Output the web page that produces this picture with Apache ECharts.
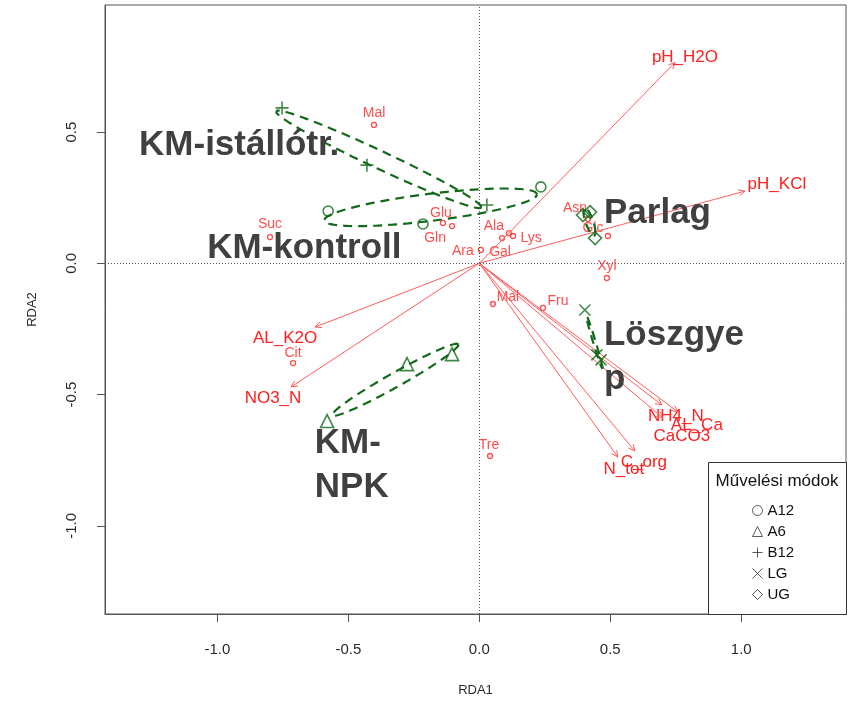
<!DOCTYPE html>
<html>
<head>
<meta charset="utf-8">
<script src="https://cdn.jsdelivr.net/npm/echarts@6/dist/echarts.min.js"></script>
<style>
  html, body { margin: 0; padding: 0; background: #fff; }
  #chart { width: 854px; height: 703px; }
</style>
</head>
<body>
<div id="chart"></div>
<script>
// ---- RDA scores -------------------------------------------------------
// species scores (sugars, amino acids, organic acids)
const speciesNames = ['Mal', 'Suc', 'Glu', 'Gln', 'Ala', 'Lys', 'Gal', 'Ara', 'Asn', 'Glc', 'Xyl', 'Mal', 'Fru', 'Tre', 'Cit'];
const speciesRDA1  = [-0.402, -0.799, -0.139, -0.104, 0.113, 0.129, 0.087, 0.006, 0.415, 0.491, 0.487, 0.052, 0.243, 0.041, -0.711];
const speciesRDA2  = [0.527, 0.100, 0.154, 0.142, 0.115, 0.104, 0.096, 0.051, 0.169, 0.104, -0.056, -0.155, -0.170, -0.734, -0.380];

// fitted soil variables (biplot arrows)
const envNames = ['pH_H2O', 'pH_KCl', 'AL_K2O', 'NO3_N', 'NH4_N', 'AL_Ca', 'CaCO3', 'C_org', 'N_tot'];
const envRDA1  = [0.747, 1.014, -0.627, -0.719, 0.697, 0.758, 0.701, 0.594, 0.529];
const envRDA2  = [0.765, 0.275, -0.243, -0.471, -0.540, -0.566, -0.589, -0.715, -0.738];

// site scores per cultivation mode
const siteGroups = ['A12', 'A6', 'B12', 'LG', 'UG'];
const sitesA12 = [[-0.577, 0.199], [-0.215, 0.150], [0.235, 0.291]];
const sitesA6  = [[-0.581, -0.601], [-0.276, -0.384], [-0.104, -0.346]];
const sitesB12 = [[-0.753, 0.592], [-0.429, 0.374], [0.029, 0.222]];
const sitesLG  = [[0.403, -0.178], [0.449, -0.349], [0.465, -0.368]];
const sitesUG  = [[0.396, 0.184], [0.423, 0.195], [0.442, 0.096]];

// treatment names written next to the groups
const noteTexts = ['KM-istállótr.', 'KM-kontroll', 'Parlag', 'Löszgye\np', 'KM-\nNPK'];
const noteRDA1  = [-1.299, -1.039, 0.476, 0.476, -0.628];
const noteRDA2  = [0.451, 0.058, 0.192, -0.357, -0.768];

const tickValues = [-1.0, -0.5, 0.0, 0.5, 1.0];

// ---- styling ----------------------------------------------------------
const FONT = '"Liberation Sans", Arial, Helvetica, sans-serif';
const RED = '#ff2020';
const ARROW = '#ff5e5e';
const GREEN = '#11691a';
const NOTE = '#404040';

// label placement around each species point, in pixels [dx, dy]
const speciesLabelShift = [[0, -12], [0, -13], [-2, -10], [-17, 12], [-15, -7], [18, 2], [-2, 14],
                           [-18, 1], [-13, -11], [-15, -8], [0, -12], [15, -7], [15, -7], [-1, -11], [0, -10]];
// label placement beyond each arrow tip, in pixels [dx, dy]
const envLabelShift = [[10, -5], [32, -7], [-30, 11], [-18, 11], [14, 11], [19, 13], [19, 18], [9, 11], [6, 12]];

const siteSymbols = {
  A12: 'circle',
  A6: 'triangle',
  B12: 'path://M0,5L10,5M5,0L5,10',
  LG: 'path://M0,0L10,10M10,0L0,10',
  UG: 'diamond'
};
const siteSizes = { A12: 10, A6: 13, B12: 13, LG: 11, UG: 13 };
const siteData = { A12: sitesA12, A6: sitesA6, B12: sitesB12, LG: sitesLG, UG: sitesUG };

// one-standard-deviation ellipse of a group (sample covariance, n - 1)
function groupEllipse(pts, steps) {
  const n = pts.length;
  let mx = 0, my = 0;
  pts.forEach(p => { mx += p[0]; my += p[1]; });
  mx /= n; my /= n;
  let sxx = 0, syy = 0, sxy = 0;
  pts.forEach(p => {
    const dx = p[0] - mx, dy = p[1] - my;
    sxx += dx * dx; syy += dy * dy; sxy += dx * dy;
  });
  sxx /= (n - 1); syy /= (n - 1); sxy /= (n - 1);
  const a = Math.sqrt(sxx);
  const b = sxy / a;
  const c = Math.sqrt(Math.max(syy - b * b, 1e-12));
  const out = [];
  for (let k = 0; k <= steps; k++) {
    const t = 2 * Math.PI * k / steps;
    const ct = Math.cos(t), st = Math.sin(t);
    out.push([mx + a * ct, my + b * ct + c * st]);
  }
  return out;
}

const chart = echarts.init(document.getElementById('chart'), null, { renderer: 'canvas' });

const axisCommon = {
  type: 'value',
  axisLine: { show: true, onZero: false, lineStyle: { color: '#555', width: 1 } },
  axisTick: { show: true, inside: false, length: 8, customValues: tickValues, lineStyle: { color: '#555' } },
  axisLabel: {
    customValues: tickValues,
    formatter: v => v.toFixed(1),
    color: '#2a2a2a', fontSize: 15, fontFamily: FONT
  },
  splitLine: { show: false },
  nameLocation: 'middle',
  nameTextStyle: { color: '#2a2a2a', fontSize: 13, fontFamily: FONT }
};

const series = [];

// species points with their names
series.push({
  type: 'scatter',
  name: 'species',
  z: 2,
  symbol: 'circle',
  symbolSize: 5,
  itemStyle: { color: 'rgba(0,0,0,0)', borderColor: RED, borderWidth: 1.3 },
  label: {
    show: true, position: 'inside', formatter: '{b}',
    color: RED, fontSize: 14, fontFamily: FONT
  },
  data: speciesNames.map((nm, i) => ({
    name: nm,
    value: [speciesRDA1[i], speciesRDA2[i]],
    label: { offset: speciesLabelShift[i] }
  })),
  markLine: {
    silent: true, symbol: 'none', animation: false,
    label: { show: false },
    lineStyle: { color: '#555', width: 1, type: [1, 2] },
    data: [{ xAxis: 0 }, { yAxis: 0 }]
  }
});

// soil variable arrows from the origin
series.push({
  type: 'custom',
  name: 'env',
  z: 3,
  data: envNames.map((nm, i) => [envRDA1[i], envRDA2[i]]),
  renderItem: function (params, api) {
    const i = params.dataIndex;
    const o = api.coord([0, 0]);
    const p = api.coord([api.value(0), api.value(1)]);
    const ang = Math.atan2(p[1] - o[1], p[0] - o[0]);
    const L = 7, a = Math.PI / 7;
    const h1 = [p[0] - L * Math.cos(ang - a), p[1] - L * Math.sin(ang - a)];
    const h2 = [p[0] - L * Math.cos(ang + a), p[1] - L * Math.sin(ang + a)];
    const s = envLabelShift[i];
    return {
      type: 'group',
      children: [
        { type: 'line', shape: { x1: o[0], y1: o[1], x2: p[0], y2: p[1] },
          style: { stroke: ARROW, lineWidth: 1 } },
        { type: 'polyline', shape: { points: [h1, p, h2] },
          style: { stroke: ARROW, lineWidth: 1, fill: null } },
        { type: 'text', x: p[0] + s[0], y: p[1] + s[1],
          style: { text: envNames[i], fill: RED, font: '17px ' + FONT, align: 'center', verticalAlign: 'middle' } }
      ]
    };
  }
});

// dashed group ellipses and site symbols
siteGroups.forEach(g => {
  series.push({
    type: 'line',
    name: g + '-ellipse',
    z: 4,
    silent: true,
    symbol: 'none',
    showSymbol: false,
    lineStyle: { color: GREEN, width: 2.2, type: [9, 6] },
    data: groupEllipse(siteData[g], 120)
  });
});
siteGroups.forEach(g => {
  series.push({
    type: 'scatter',
    name: g,
    z: 5,
    symbol: siteSymbols[g],
    symbolSize: siteSizes[g],
    symbolKeepAspect: true,
    itemStyle: { color: 'rgba(0,0,0,0)', borderColor: GREEN, borderWidth: 1.6 },
    data: siteData[g]
  });
});

// treatment names
series.push({
  type: 'custom',
  name: 'notes',
  z: 6,
  silent: true,
  data: noteTexts.map((t, i) => [noteRDA1[i], noteRDA2[i]]),
  renderItem: function (params, api) {
    const p = api.coord([api.value(0), api.value(1)]);
    return {
      type: 'text', x: p[0], y: p[1],
      style: {
        text: noteTexts[params.dataIndex], fill: NOTE,
        font: 'bold 35px ' + FONT, align: 'left', verticalAlign: 'middle', lineHeight: 44
      }
    };
  }
});

const option = {
  animation: false,
  backgroundColor: '#fff',
  grid: { left: 105, right: 8, top: 5, bottom: 89, show: true, borderColor: '#555', borderWidth: 1 },
  xAxis: Object.assign({}, axisCommon, {
    min: -1.429, max: 1.4,
    name: 'RDA1', nameGap: 70,
    axisLabel: Object.assign({}, axisCommon.axisLabel, { margin: 28 })
  }),
  yAxis: Object.assign({}, axisCommon, {
    min: -1.336, max: 0.984,
    name: 'RDA2', nameGap: 66,
    axisLabel: Object.assign({}, axisCommon.axisLabel, { margin: 26, rotate: 90 })
  }),
  legend: {
    orient: 'vertical', left: 752, top: 500, padding: 0, itemGap: 0,
    itemWidth: 10, itemHeight: 10, selectedMode: false, z: 20,
    textStyle: { fontSize: 15, color: '#111', fontFamily: FONT, lineHeight: 21 },
    itemStyle: { color: 'rgba(0,0,0,0)', borderColor: '#333', borderWidth: 1 },
    data: siteGroups.map(g => ({ name: g, icon: siteSymbols[g] }))
  },
  graphic: [
    { type: 'rect', z: 15, shape: { x: 708.5, y: 462.5, width: 138, height: 152 },
      style: { fill: '#fff', stroke: '#333', lineWidth: 1 } },
    { type: 'text', z: 16, x: 777, y: 481,
      style: { text: 'Művelési módok', fill: '#111', font: '17px ' + FONT, align: 'center', verticalAlign: 'middle' } }
  ],
  series: series
};

chart.setOption(option);
</script>
</body>
</html>
